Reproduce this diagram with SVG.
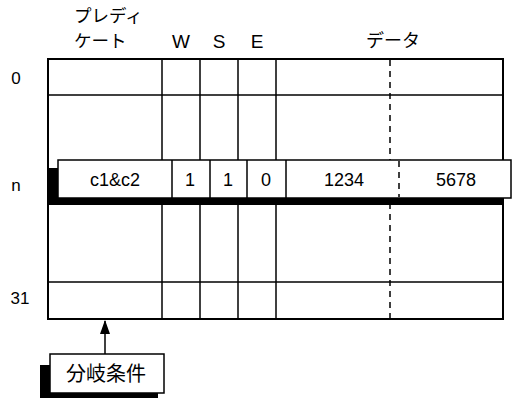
<svg xmlns="http://www.w3.org/2000/svg" width="513" height="399" viewBox="0 0 513 399">
<style>
.t{font-family:"Liberation Sans",Arial,sans-serif;fill:#000}
.j{font-family:"Noto Sans CJK JP","Noto Sans",sans-serif;fill:#000}
.ln{stroke:#000;stroke-width:1.5;fill:none}
.dash{stroke:#000;stroke-width:1.5;stroke-dasharray:6,5;fill:none}
</style>
<defs>
<marker id="ah" markerWidth="14" markerHeight="10" refX="13" refY="5" orient="auto" markerUnits="userSpaceOnUse">
<path d="M0,0 L14,5 L0,10 Z" fill="#000"/>
</marker>
</defs>
<rect width="513" height="399" fill="#fff"/>
<g id="header">
<text class="j" x="74" y="22" font-size="17.5">プレディ</text>
<text class="j" x="74" y="47" font-size="17.5">ケート</text>
<text class="t" x="181" y="48" font-size="19" text-anchor="middle">W</text>
<text class="t" x="219" y="48" font-size="19" text-anchor="middle">S</text>
<text class="t" x="257" y="48" font-size="19" text-anchor="middle">E</text>
<text class="j" x="393" y="47" font-size="18" text-anchor="middle">データ</text>
</g>
<g id="rowlabels">
<text class="t" x="16" y="84" font-size="17" text-anchor="middle">0</text>
<text class="t" x="16" y="191" font-size="17" text-anchor="middle">n</text>
<text class="t" x="20" y="304" font-size="17" text-anchor="middle">31</text>
</g>
<g id="table">
<rect x="48" y="59" width="455" height="260" fill="#fff" stroke="#000" stroke-width="2"/>
<line class="ln" x1="48" y1="95" x2="503" y2="95"/>
<line class="ln" x1="48" y1="282" x2="503" y2="282"/>
<line class="ln" x1="162" y1="59" x2="162" y2="319"/>
<line class="ln" x1="200" y1="59" x2="200" y2="319"/>
<line class="ln" x1="238" y1="59" x2="238" y2="319"/>
<line class="ln" x1="276" y1="59" x2="276" y2="319"/>
<line class="dash" x1="390" y1="60" x2="390" y2="318"/>
</g>
<g id="row-n">
<rect x="48" y="168" width="10" height="37" fill="#000"/>
<rect x="48" y="197" width="455" height="8" fill="#000"/>
<rect x="58" y="160" width="453" height="38" fill="#fff" stroke="#000" stroke-width="1.5"/>
<line class="ln" x1="172" y1="160" x2="172" y2="198"/>
<line class="ln" x1="210" y1="160" x2="210" y2="198"/>
<line class="ln" x1="247" y1="160" x2="247" y2="198"/>
<line class="ln" x1="286" y1="160" x2="286" y2="198"/>
<line class="dash" x1="399" y1="161" x2="399" y2="197"/>
<text class="t" x="115" y="186" font-size="18" text-anchor="middle">c1&amp;c2</text>
<text class="t" x="190" y="186" font-size="18" text-anchor="middle">1</text>
<text class="t" x="228" y="186" font-size="18" text-anchor="middle">1</text>
<text class="t" x="266" y="186" font-size="18" text-anchor="middle">0</text>
<text class="t" x="344" y="186" font-size="18" text-anchor="middle">1234</text>
<text class="t" x="456" y="186" font-size="18" text-anchor="middle">5678</text>
</g>
<g id="connectors">
<line x1="105" y1="354" x2="105" y2="321" stroke="#000" stroke-width="1.5" marker-end="url(#ah)"/>
</g>
<g id="branch">
<rect x="40" y="365" width="10" height="33" fill="#000"/>
<rect x="40" y="393" width="118" height="5" fill="#000"/>
<rect x="50" y="354" width="114" height="39" fill="#fff" stroke="#000" stroke-width="1.5"/>
<text class="j" x="106" y="381" font-size="20" text-anchor="middle">分岐条件</text>
</g>
</svg>
